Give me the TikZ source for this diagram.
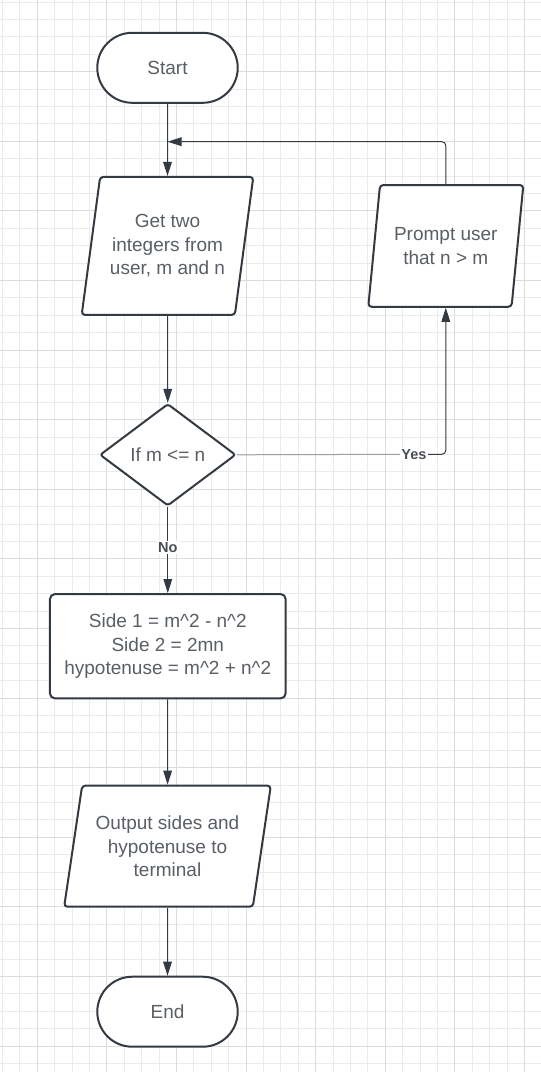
\documentclass[tikz,border=0pt]{standalone}
\usepackage{fontspec}
\setmainfont{Liberation Sans}
\usetikzlibrary{shapes.geometric, shapes.misc, arrows.meta}
\definecolor{edge}{HTML}{343A42}
\definecolor{txt}{HTML}{5A5F66}
\definecolor{lbl}{HTML}{4A4F56}
\definecolor{faint}{HTML}{9A9FA4}
\definecolor{minorgrid}{HTML}{EBEBEB}
\definecolor{majorgrid}{HTML}{DCDCDC}

\begin{document}
\begin{tikzpicture}[x=0.75pt,y=-0.75pt,>={Triangle[length=10.5pt,width=6.5pt]},
  font=\fontsize{14.25}{17.5}\selectfont,
  shape base/.style={draw=edge, line width=1.5pt, fill=white, text=txt, align=center},
  terminal/.style={shape base, rounded rectangle, minimum width=112pt, minimum height=52.5pt},
  io/.style={shape base, trapezium, trapezium left angle=75.5, trapezium right angle=104.5,
    trapezium stretches body, inner xsep=-6pt, rounded corners=2.5pt},
  process/.style={shape base, rectangle, rounded corners=3.75pt, minimum width=176.8pt, minimum height=78.2pt},
  decision/.style={shape base, diamond, aspect=1.333, inner sep=0pt, rounded corners=2pt,
    minimum width=102pt, minimum height=76.5pt},
  line/.style={draw=edge, line width=0.75pt},
  label/.style={font=\fontsize{10.9}{12}\selectfont\bfseries, text=lbl, fill=white, inner sep=1pt}]

% paper and grid
\fill[white] (0,0) rectangle (541,1072);
\useasboundingbox (0,0) rectangle (541,1072);
\foreach \i in {0,...,31} \draw[minorgrid, line width=0.75pt] ({2.5+17.4*\i},0) -- ++(0,1072);
\foreach \i in {0,...,61} \draw[minorgrid, line width=0.75pt] (0,{2.1+17.4*\i}) -- ++(541,0);
\foreach \i in {0,...,7} \draw[majorgrid, line width=0.75pt] ({37.3+69.6*\i},0) -- ++(0,1072);
\foreach \i in {0,...,14} \draw[majorgrid, line width=0.75pt] (0,{71.7+69.6*\i}) -- ++(541,0);

% shapes
\node[terminal] (start) at (167.5,67.8) {Start};
\node[io, minimum width=128.7pt, minimum height=103.5pt] (input) at (167.5,245.9) {Get two\\integers from\\user, m and n};
\node[io, minimum width=116.3pt, minimum height=91.3pt] (prompt) at (445.8,245.9) {Prompt user\\that n > m};
\node[decision] (check) at (167.8,454.8) {If m <= n};
\node[process] (calc) at (167.8,646.2) {Side 1 = m\textasciicircum 2 - n\textasciicircum 2\\Side 2 = 2mn\\hypotenuse = m\textasciicircum 2 + n\textasciicircum 2};
\node[io, minimum width=155pt, minimum height=90.8pt] (output) at (167.5,846.2) {Output sides and\\hypotenuse to\\terminal};
\node[terminal] (end) at (167.5,1011.7) {End};

% labels
\node[label] (yes) at (414,454.3) {Yes};
\node[label] (no) at (167.8,547.7) {No};
\coordinate (merge) at (167.5,141.7);

% connectors
\draw[line, ->] (start) -- (input);
\draw[line, ->] (input) -- (check);
\draw[line] (check.south) -- (no.north);
\draw[line, ->] (no.south) -- (calc.north);
\draw[line, ->] (calc) -- (output);
\draw[line, ->] (output) -- (end);
\draw[line, draw=faint] (check.east) -- (yes.west);
\draw[line, ->, rounded corners=3pt] (yes.east) -| (prompt.south);
\draw[line, ->, rounded corners=3pt] (prompt.north) |- (merge);

\end{tikzpicture}
\end{document}
